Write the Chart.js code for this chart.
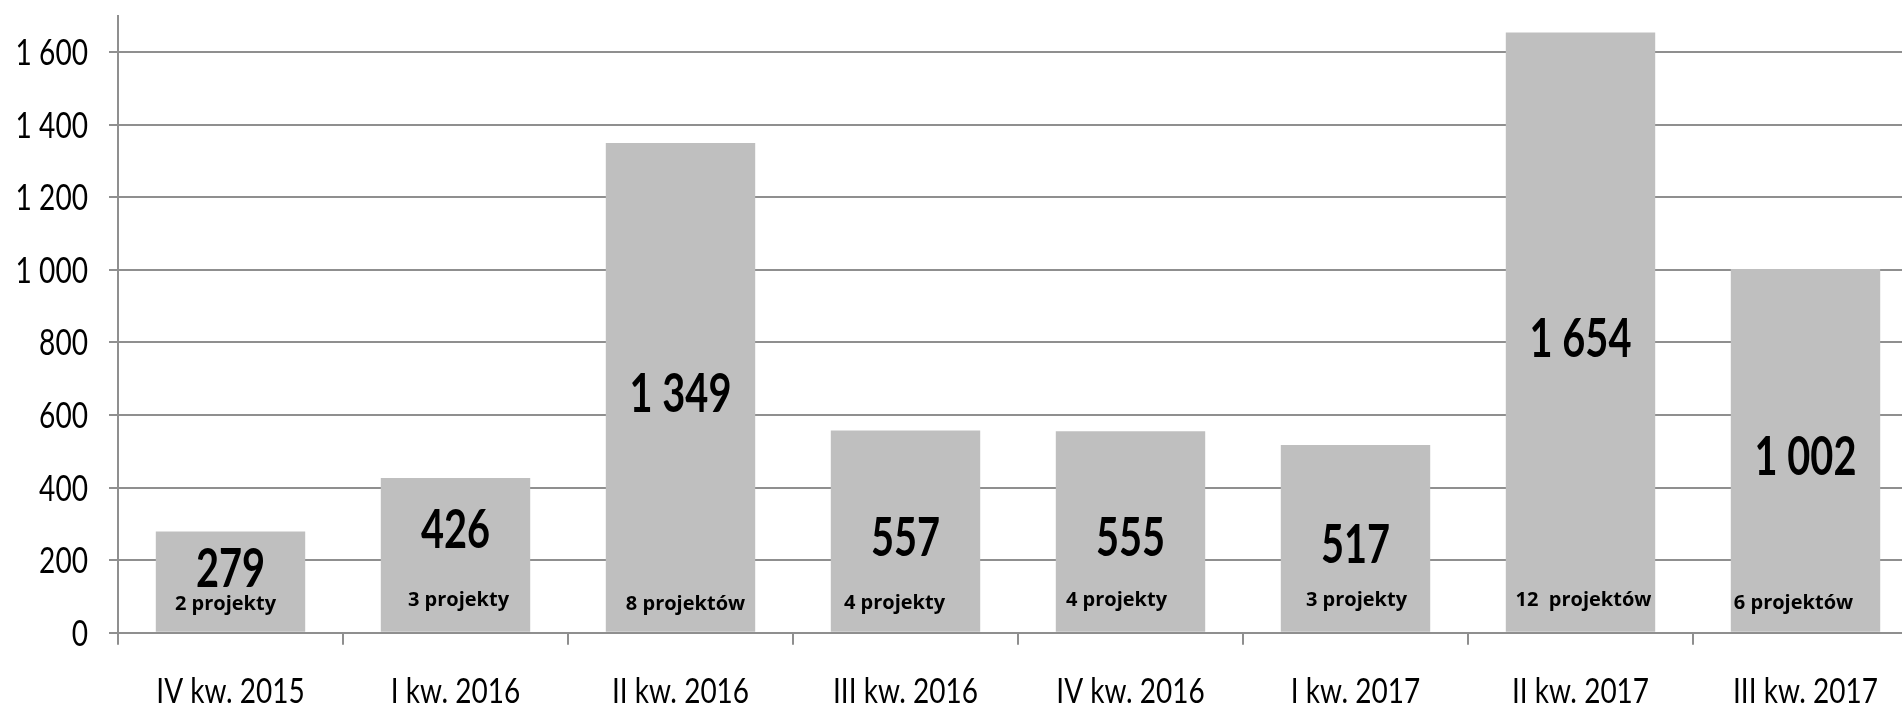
<!DOCTYPE html>
<html lang="pl">
<head>
<meta charset="utf-8">
<title>Projekty</title>
<script src="https://cdn.jsdelivr.net/npm/chart.js@4.4.1/dist/chart.umd.min.js"></script>
<style>
  html, body { margin: 0; padding: 0; background: #fff; overflow: hidden; }
  #wrap { position: relative; width: 1918px; height: 707px; }
</style>
</head>
<body>
<div id="wrap"><canvas id="projectsChart"></canvas></div>
<script>
const quarters = ['IV kw. 2015', 'I kw. 2016', 'II kw. 2016', 'III kw. 2016', 'IV kw. 2016', 'I kw. 2017', 'II kw. 2017', 'III kw. 2017'];
const amounts = [279, 426, 1349, 557, 555, 517, 1654, 1002];
const projectCounts = ['2 projekty', '3 projekty', '8 projektów', '4 projekty', '4 projekty', '3 projekty', '12  projektów', '6 projektów'];
const yTickValues = [0, 200, 400, 600, 800, 1000, 1200, 1400, 1600];

// thousands separated by a space, like the original
function fmt(n) {
    return String(n).replace(/\B(?=(\d{3})+(?!\d))/g, ' ');
}

// the original text is a narrow Calibri, so squeeze Lato horizontally
function squeezed(ctx, text, x, y, sx) {
    ctx.save();
    ctx.translate(x, y);
    ctx.scale(sx, 1);
    ctx.fillText(text, 0, 0);
    ctx.restore();
}

const axisLabels = {
    id: 'axisLabels',
    afterDraw(chart) {
        const ctx = chart.ctx;
        const xs = chart.scales.x;
        const ys = chart.scales.y;
        ctx.save();
        ctx.fillStyle = '#000';
        ctx.textBaseline = 'alphabetic';

        ctx.font = '37px Lato, sans-serif';
        ctx.textAlign = 'right';
        yTickValues.forEach(v => {
            squeezed(ctx, fmt(v), ys.right - 30, ys.getPixelForValue(v) + 13, 0.76);
        });

        ctx.font = '35px Lato, sans-serif';
        ctx.textAlign = 'center';
        quarters.forEach((q, i) => {
            squeezed(ctx, q, xs.getPixelForValue(i), xs.top + 70, 0.8);
        });
        ctx.restore();
    }
};

// big value in the bar + "N projektów" near its base
const barLabels = {
    id: 'barLabels',
    afterDatasetsDraw(chart, args, opts) {
        const ctx = chart.ctx;
        const yScale = chart.scales.y;
        const base = yScale.getPixelForValue(0);
        ctx.save();
        ctx.fillStyle = '#000';
        ctx.textAlign = 'center';
        ctx.textBaseline = 'alphabetic';
        chart.getDatasetMeta(0).data.forEach((bar, i) => {
            const v = amounts[i];
            ctx.font = 'bold 53px Lato, sans-serif';
            squeezed(ctx, fmt(v), bar.x, yScale.getPixelForValue(v * opts.anchor[i]) + 24, 0.75);

            ctx.font = "bold 20px 'Open Sans', sans-serif";
            ctx.fillText(projectCounts[i], bar.x + opts.shift[i], base - opts.lift[i]);
        });
        ctx.restore();
    }
};

new Chart(document.getElementById('projectsChart'), {
    type: 'bar',
    data: {
        labels: quarters,
        datasets: [{
            data: amounts,
            backgroundColor: '#bfbfbf',
            borderWidth: 0,
            categoryPercentage: 1,
            barPercentage: 0.664
        }]
    },
    options: {
        responsive: true,
        maintainAspectRatio: false,
        animation: false,
        layout: { padding: { top: 15.7, right: 0, bottom: 0, left: 0 } },
        plugins: {
            legend: { display: false },
            tooltip: { enabled: false },
            barLabels: {
                anchor: [0.69, 0.70, 0.5, 0.5, 0.5, 0.5, 0.5, 0.5],
                shift: [-5, 3, 5, -11, -14, 1, 3, -12],
                lift: [23, 27, 23, 24, 27, 27, 27, 24]
            }
        },
        scales: {
            x: {
                grid: { offset: true, drawOnChartArea: false, drawTicks: true, tickLength: 12, color: '#8f8f8f', lineWidth: 2 },
                border: { color: '#8f8f8f', width: 2 },
                ticks: { display: false, autoSkip: false },
                afterFit: s => { s.height = 74.3; s.paddingLeft = 0; s.paddingRight = 0; }
            },
            y: {
                min: 0,
                max: 1700,
                grid: { color: '#8f8f8f', lineWidth: 2, tickLength: 9 },
                border: { color: '#8f8f8f', width: 2 },
                ticks: { display: false },
                afterBuildTicks: s => { s.ticks = yTickValues.map(v => ({ value: v })); },
                afterFit: s => { s.width = 118; s.paddingTop = 0; s.paddingBottom = 0; }
            }
        }
    },
    plugins: [barLabels, axisLabels]
});
</script>
</body>
</html>
